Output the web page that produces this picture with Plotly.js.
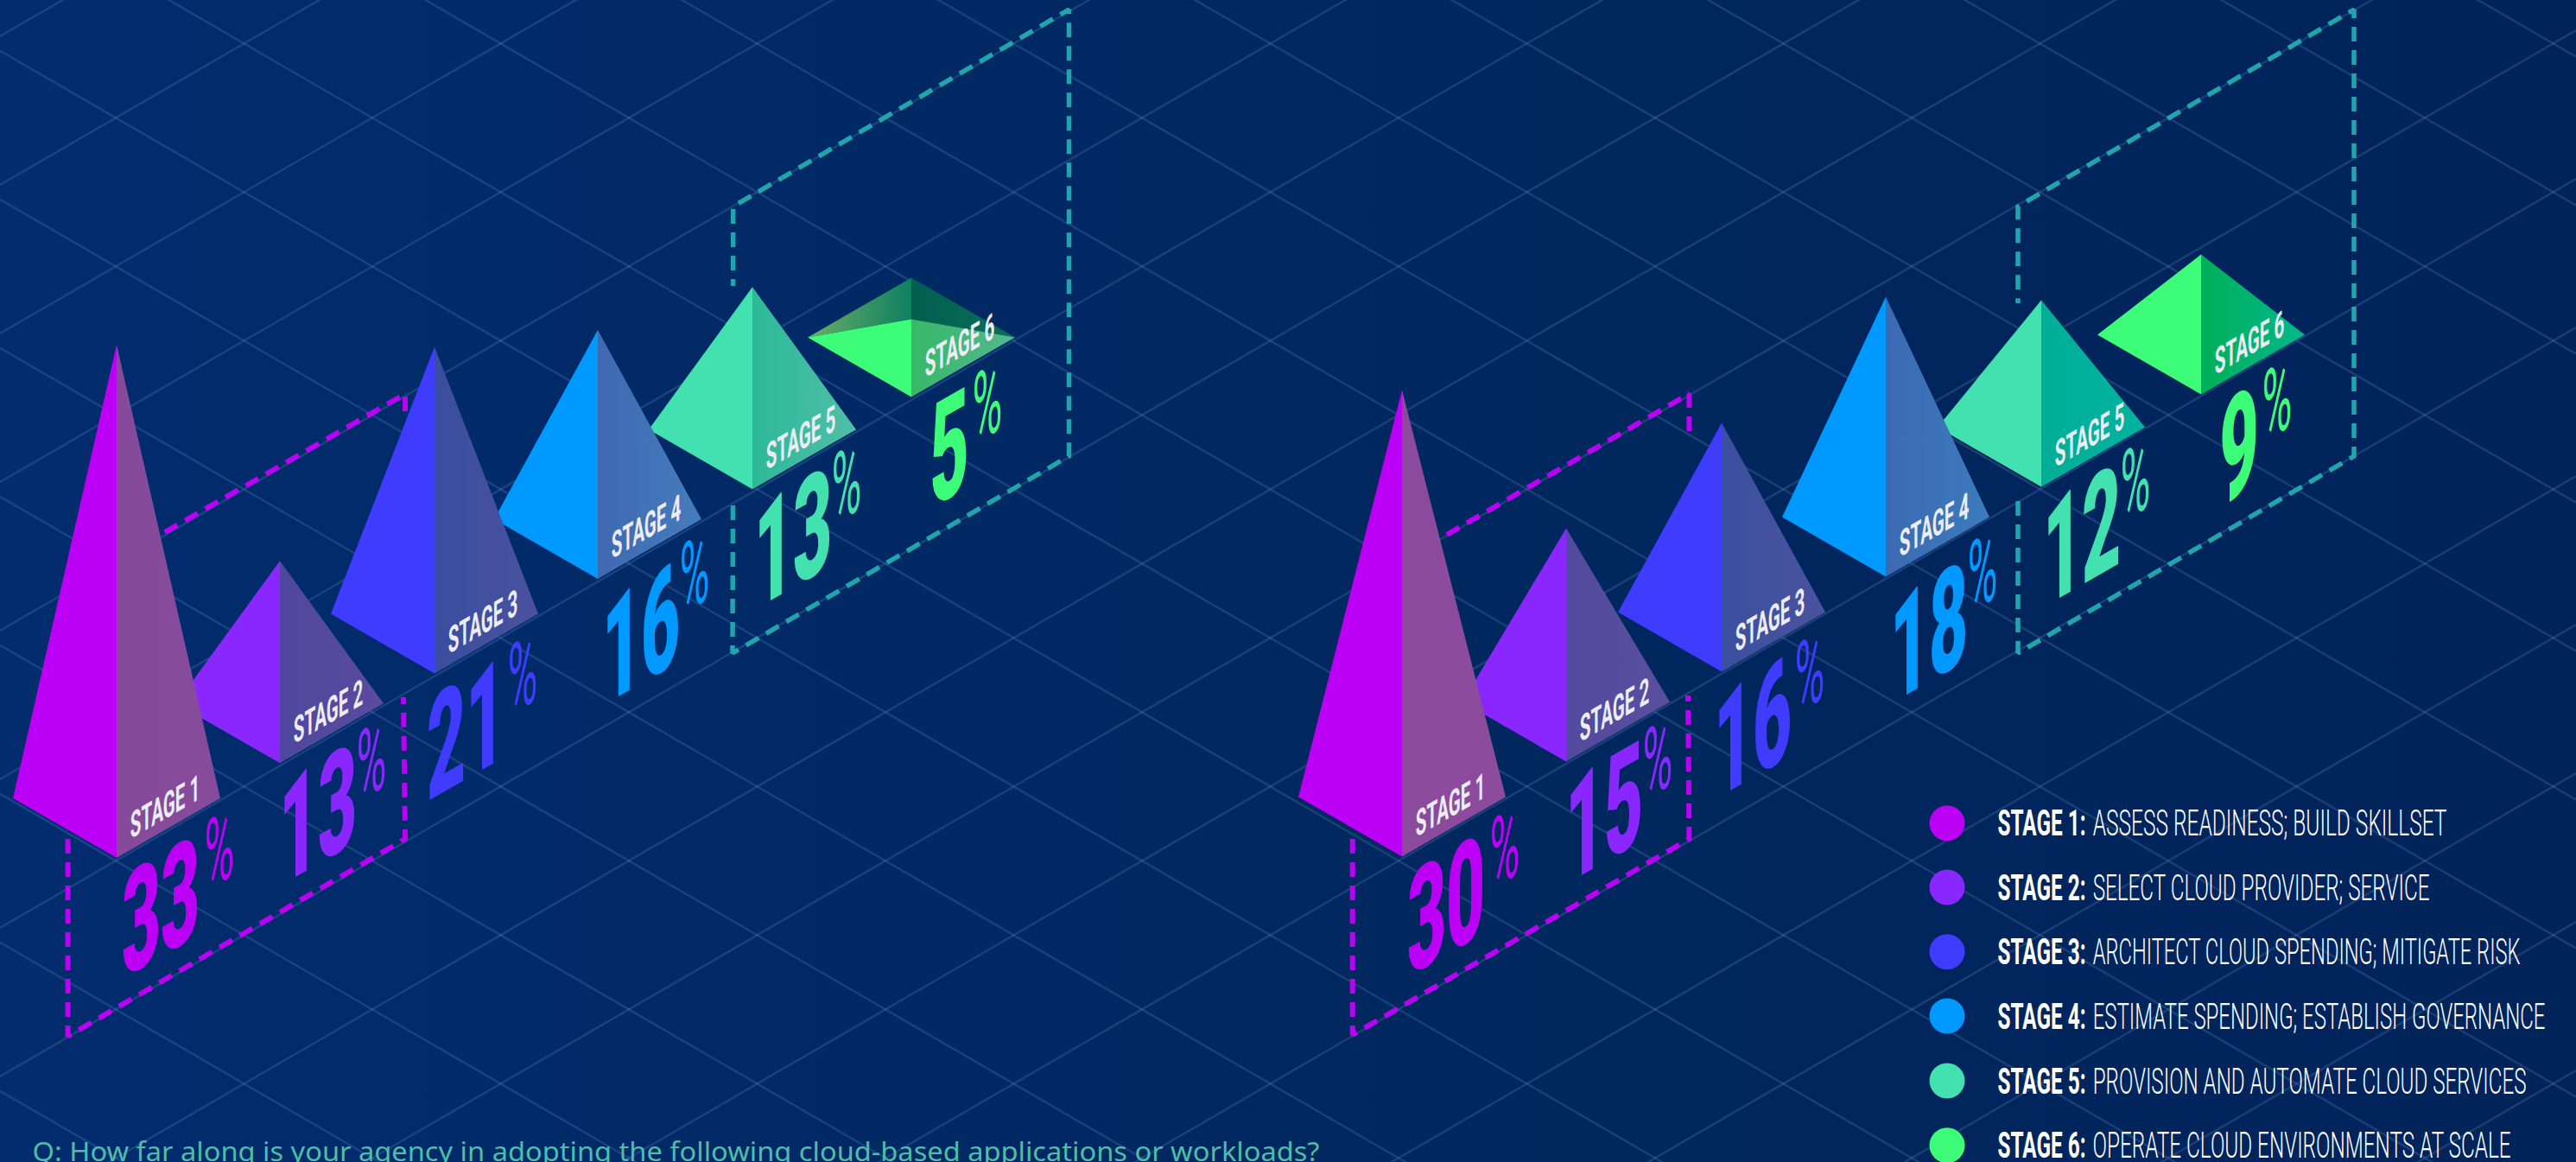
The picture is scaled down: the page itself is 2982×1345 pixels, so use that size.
<!DOCTYPE html>
<html><head><meta charset="utf-8">
<script src="https://cdn.plot.ly/plotly-3.0.1.min.js"></script>
<style>html,body{margin:0;padding:0;background:#012A68;overflow:hidden}#chart{width:2982px;height:1345px}</style>
</head><body><div id="chart"></div>
<script>
// ---------- data ----------
const stageNames = ["STAGE 1","STAGE 2","STAGE 3","STAGE 4","STAGE 5","STAGE 6"];
const stageTexts = ["ASSESS READINESS; BUILD SKILLSET","SELECT CLOUD PROVIDER; SERVICE","ARCHITECT CLOUD SPENDING; MITIGATE RISK","ESTIMATE SPENDING; ESTABLISH GOVERNANCE","PROVISION AND AUTOMATE CLOUD SERVICES","OPERATE CLOUD ENVIRONMENTS AT SCALE"];
const leftShare  = [33,13,21,16,13,5];
const rightShare = [30,15,16,18,12,9];
const footnote = "Q: How far along is your agency in adopting the following cloud-based applications or workloads?";

// ---------- styles ----------
const stageColors = ["#BB00F5","#8A27FF","#3F3BFF","#0099FF","#43E0B0","#3DFC78"];
const shadeLeft  = [["#864A9B","#874B9B"],["#4F479E","#5A4B9E"],["#3A4D9E","#4A52A0"],["#3F69B2","#457CBD"],["#2DB998","#4FBFA8"],["#38B868","#52B890"]];
const shadeRight = [["#8C4A9C","#8D4B9C"],["#524A9E","#5A4F9E"],["#3A4F9E","#4B539F"],["#3B6AB3","#3B7BBD"],["#00AE97","#00B3A0"],["#00AF58","#00B88C"]];
const MAGENTA="#BB00F5", TEAL="#20A5AC", GRID="rgba(110,150,205,0.23)";

// ---------- page geometry (isometric projection) ----------
const W=2982,H=1345, HALF_W=120, HALF_H=69;
const charts=[
 {share:leftShare, shade:shadeLeft, x0:135,  y0:924,  dx:184, dy:106.7},
 {share:rightShare,shade:shadeRight,x0:1623, y0:922.5,dx:185, dy:107}
];
const heightOf = v => 18*v-69;            // pyramid height scale
const nudge = i => (i===1||i===3);
const centre = (c,i)=>({x:c.x0+i*c.dx+(nudge(i)?5:0), y:c.y0-i*c.dy-(nudge(i)?3:0)});
const numOff=[[51,57],[44,60],[36,66],[50,65],[47,57],[44,60]];
const pctOff=[[119,-10],[106,-3],[102,1],[112,-6],[109,-7],[88,7]];
const legendWidths=[410,390,495,524,502,484];

const traces=[];
// background
traces.push({x:[0,W,W,0,0],y:[0,0,H,H,0],mode:'lines',fill:'toself',line:{width:0},
  fillgradient:{type:'horizontal',colorscale:[[0,'#012C6E'],[0.5,'#012860'],[1,'#00235A']]},hoverinfo:'skip',showlegend:false});
// lattice
(function(){
  const s=86/148.5, gx=[],gy=[];
  const base=50.4;
  for(let j=-12;j<30;j++){
    const c1=base+s*282.5+172*j;              // rising lines
    gx.push(0,W,null); gy.push(c1,c1-s*W,null);
    const c2=base-s*282.5+172*j;              // falling lines
    gx.push(0,W,null); gy.push(c2,c2+s*W,null);
  }
  traces.push({x:gx,y:gy,mode:'lines',line:{color:GRID,width:2.5},hoverinfo:'skip',showlegend:false});
})();
// dashed frames
function dash(xs,ys,col,w){traces.push({x:xs,y:ys,mode:'lines',line:{color:col,width:w,dash:'17px,10px'},hoverinfo:'skip',showlegend:false});}
dash([78.6,78.6,469,467],[971,1199.5,971,807],MAGENTA,6);
dash([469,469,186.6],[476,456,618.5],MAGENTA,6);
dash([1565.7,1565.7,1955.4,1954],[971,1198,971,805],MAGENTA,6);
dash([1955.4,1955.4,1673],[499,455.7,620],MAGENTA,6);
dash([848.5,848,1237.5,1237.5,848.7,848.7],[585,756,528,11,239,331],TEAL,5.5);
dash([2336,2336,2725,2725,2336,2336],[580,756,528,11,239,351],TEAL,5.5);

function face(xs,ys,fill){
  const t={x:xs.concat(xs[0]),y:ys.concat(ys[0]),mode:'lines',fill:'toself',line:{width:0},hoverinfo:'skip',showlegend:false};
  if(Array.isArray(fill)) t.fillgradient={type:'horizontal',colorscale:[[0,fill[0]],[1,fill[1]]]};
  else t.fillcolor=fill;
  traces.push(t);
}
// pyramids, back to front
charts.forEach(c=>{
  for(let i=5;i>=0;i--){
    const p=centre(c,i), ax=p.x, ay=p.y-heightOf(c.share[i]);
    const L=p.x-HALF_W, R=p.x+HALF_W, B=p.y+HALF_H, K=p.y-HALF_H;
    if(ay>K){ // apex lower than the back corner: the far faces show
      face([L,ax,ax],[p.y,K,ay],['#6AAE64','#0D8060']);
      face([ax,R,ax],[K,p.y,ay],['#015E4F','#0A7058']);
    }
    face([L,ax,ax],[p.y,ay,B],stageColors[i]);
    face([ax,R,ax],[ay,p.y,B],c.shade[i]);
  }
});
// legend dots
const legendY=[952.7,1027,1101.7,1176,1251,1325.7];
traces.push({x:legendY.map(()=>2254),y:legendY,mode:'markers',marker:{size:41,color:stageColors,line:{width:0}},hoverinfo:'skip',showlegend:false});

// ---------- text ----------
const ann=[], warp=[];
const SK=-0.577;
function label(text,x,y,opt,sx,skew,fit){
  ann.push(Object.assign({text:text,x:x,y:y,xref:'x',yref:'y',showarrow:false,xanchor:'center',yanchor:'middle',borderpad:0},opt));
  warp.push({sx:sx,skew:skew,x:x,y:y,fit:fit});
}
charts.forEach(c=>{
  c.share.forEach((v,i)=>{
    const p=centre(c,i), bx=p.x, by=p.y+HALF_H;
    label(String(v),bx+numOff[i][0],by+numOff[i][1],{font:{family:'Roboto',size:166,weight:900,color:stageColors[i]}},0.47,SK);
    label('%',bx+pctOff[i][0],by+pctOff[i][1],{font:{family:'Roboto',size:112,weight:400,color:stageColors[i]}},0.42,SK);
    label(stageNames[i],bx+56,by-60,{font:{family:'Roboto',size:42,weight:700,color:'#ECECF4'}},0.49,SK);
  });
});
stageNames.forEach((n,i)=>{
  label(n+':',2312,legendY[i],{xanchor:'left',font:{family:'Roboto',size:42,weight:700,color:'#FFFFFF'}},0.6,0,102);
  label(stageTexts[i],2422,legendY[i],{xanchor:'left',font:{family:'Roboto',size:42,weight:300,color:'#FFFFFF'}},0.6,0,legendWidths[i]);
});
label(footnote,36,1332,{xanchor:'left',font:{family:'Noto Sans',size:31,color:'#4FBDAA'}},1,0,1491);

const layout={width:W,height:H,margin:{l:0,r:0,t:0,b:0,pad:0},paper_bgcolor:'#012A68',plot_bgcolor:'rgba(0,0,0,0)',
  xaxis:{range:[0,W],visible:false,fixedrange:true},yaxis:{range:[H,0],visible:false,fixedrange:true},
  showlegend:false,hovermode:false,annotations:ann};

Plotly.newPlot('chart',traces,layout,{staticPlot:true,displayModeBar:false,responsive:false}).then(gd=>{
  warp.forEach((w,i)=>{
    const g=gd.querySelector('g.annotation[data-index="'+i+'"] g.annotation-text-g');
    if(!g) return;
    let sx=w.sx;
    if(w.fit){ const t=g.querySelector('text'); if(t) sx=w.fit/t.getBBox().width; }
    g.setAttribute('transform','translate('+w.x+','+w.y+') matrix('+sx+','+(sx*w.skew)+',0,1,0,0) translate('+(-w.x)+','+(-w.y)+')');
  });
});
</script></body></html>
